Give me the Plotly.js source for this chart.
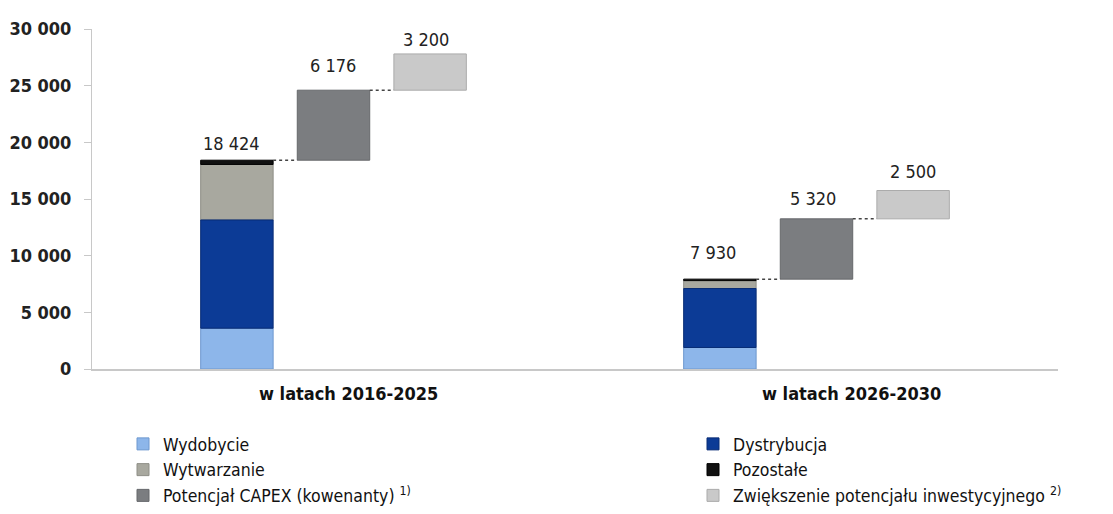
<!DOCTYPE html>
<html>
<head>
<meta charset="utf-8">
<script src="https://cdn.plot.ly/plotly-3.0.1.min.js"></script>
<style>html,body{margin:0;padding:0;background:#fff;}#chart{width:1113px;height:514px;}</style>
</head>
<body>
<div id="chart"></div>
<script>
// ---- data ----
const periods = ['w latach 2016-2025', 'w latach 2026-2030'];
const wydobycie = [3600, 1900];
const dystrybucja = [9550, 5200];
const wytwarzanie = [4900, 700];
const pozostale = [374, 130];
const totals = [18424, 7930];
const capex = [6176, 5320];
const zwiekszenie = [3200, 2500];
const tickValues = [0, 5000, 10000, 15000, 20000, 25000, 30000];

// ---- helpers ----
const FONT = '"DejaVu Sans Condensed", "Liberation Sans Narrow", "DejaVu Sans", sans-serif';
function fmt(v) { return String(v).replace(/\B(?=(\d{3})+(?!\d))/g, ' '); }

const xBar = [1, 6], xCapex = [2, 7], xZw = [3, 8];
const BW = 0.75;

function cum(arrays) {
  const out = [];
  let acc = [0, 0];
  arrays.forEach(a => { out.push(acc.slice()); acc = acc.map((v, i) => v + a[i]); });
  return out;
}
const bases = cum([wydobycie, dystrybucja, wytwarzanie, pozostale]);
const capexBase = totals;
const zwBase = totals.map((t, i) => t + capex[i]);

function bar(name, x, y, base, color, legend, lineColor) {
  return {
    type: 'bar', name: name, x: x, y: y, base: base, width: BW,
    marker: {color: color, line: {color: lineColor || color, width: 1}},
    legend: legend, hoverinfo: 'skip'
  };
}

const traces = [
  bar('Wydobycie', xBar, wydobycie, bases[0], '#8DB6EA', 'legend', '#6E98CF'),
  bar('Wytwarzanie', xBar, wytwarzanie, bases[2], '#A8A89F', 'legend', '#8E8E86'),
  bar('Potencjał CAPEX (kowenanty) <sup>1)</sup>', xCapex, capex, capexBase, '#7B7D80', 'legend', '#66686B'),
  bar('Dystrybucja', xBar, dystrybucja, bases[1], '#0C3B96', 'legend2', '#082C75'),
  bar('Pozostałe', xBar, pozostale, bases[3], '#111111', 'legend2', '#000000'),
  bar('Zwiększenie potencjału inwestycyjnego <sup>2)</sup>', xZw, zwiekszenie, zwBase, '#C9C9C9', 'legend2', '#ABABAB')
];

// dotted connectors
const cx = [], cy = [];
for (let i = 0; i < 2; i++) {
  cx.push(xBar[i] + BW / 2, xCapex[i] - BW / 2, null);
  cy.push(totals[i], totals[i], null);
  cx.push(xCapex[i] + BW / 2, xZw[i] - BW / 2, null);
  cy.push(zwBase[i], zwBase[i], null);
}
traces.push({
  type: 'scatter', mode: 'lines', x: cx, y: cy, showlegend: false, hoverinfo: 'skip',
  line: {color: '#444', width: 1.5, dash: 'dot'}
});

// value labels
const annotations = [];
const labelShift = [[-5, 4], [-1, 12], [-4, 2], [-7, 14], [-4, 8], [0, 7]];
const labelSets = [
  [xBar[0], totals[0], totals[0]], [xCapex[0], zwBase[0], capex[0]], [xZw[0], zwBase[0] + zwiekszenie[0], zwiekszenie[0]],
  [xBar[1], totals[1], totals[1]], [xCapex[1], zwBase[1], capex[1]], [xZw[1], zwBase[1] + zwiekszenie[1], zwiekszenie[1]]
];
labelSets.forEach((s, k) => {
  annotations.push({
    x: s[0], y: s[1], text: fmt(s[2]), showarrow: false, xref: 'x', yref: 'y',
    yanchor: 'bottom', xshift: labelShift[k][0], yshift: labelShift[k][1],
    font: {family: FONT, size: 18, color: '#222', weight: 500}
  });
});
// category labels
const catX = [2.16, 7.36];
periods.forEach((p, i) => {
  annotations.push({
    x: catX[i], y: 0, yref: 'y', xref: 'x', yanchor: 'top', yshift: -12,
    text: '<b>' + p + '</b>', showarrow: false,
    font: {family: FONT, size: 18, color: '#111'}
  });
});

const legendFont = {family: FONT, size: 17.5, color: '#111'};
const layout = {
  width: 1113, height: 514,
  margin: {l: 92, r: 55, t: 29, b: 145, autoexpand: false},
  paper_bgcolor: '#fff', plot_bgcolor: '#fff',
  barmode: 'overlay',
  separators: ', ',
  font: {family: FONT, color: '#222'},
  xaxis: {
    range: [-0.5, 9.5], showgrid: false, zeroline: false, showticklabels: false,
    showline: true, linecolor: '#C8C8C8', linewidth: 1.5, ticks: '', fixedrange: true
  },
  yaxis: {
    range: [0, 30000], tickvals: tickValues, tickformat: ',d',
    showgrid: false, zeroline: false, showline: true, linecolor: '#C8C8C8', linewidth: 1,
    ticks: 'outside', ticklen: 7, tickcolor: '#C8C8C8', ticklabelstandoff: 9,
    tickfont: {family: FONT, size: 18, color: '#222', weight: 'bold'}, fixedrange: true
  },
  legend: {
    x: (123 - 92) / 966, xanchor: 'left', y: (369 - 426) / 340, yanchor: 'top',
    orientation: 'v', tracegroupgap: 0, bgcolor: 'rgba(0,0,0,0)',
    font: legendFont, itemclick: false, itemdoubleclick: false
  },
  legend2: {
    x: (693 - 92) / 966, xanchor: 'left', y: (369 - 426) / 340, yanchor: 'top',
    orientation: 'v', tracegroupgap: 0, bgcolor: 'rgba(0,0,0,0)',
    font: legendFont, itemclick: false, itemdoubleclick: false
  },
  annotations: annotations,
  hovermode: false,
  showlegend: true
};

Plotly.newPlot('chart', traces, layout, {displayModeBar: false, staticPlot: true});
</script>
</body>
</html>
